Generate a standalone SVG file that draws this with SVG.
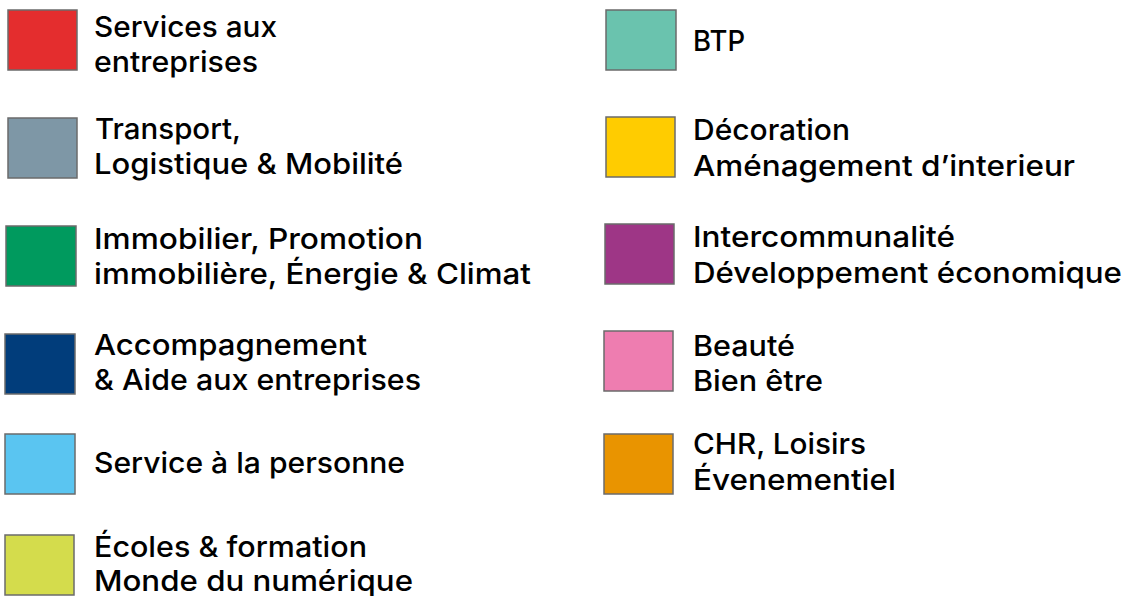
<svg xmlns="http://www.w3.org/2000/svg" width="1131" height="596" viewBox="0 0 1131 596">
<style>
.sw{stroke:#6b6b6b;stroke-width:1.5}
.t{font-family:Inter,"Open Sans","Liberation Sans",sans-serif;font-weight:500;font-size:29px;fill:#000}
</style>
<rect width="1131" height="596" fill="#fff"/>
<g id="services-entreprises">
<rect class="sw" x="8" y="10" width="69" height="60" fill="#E42D2E"/>
<text class="t" x="94" y="37" textLength="183" lengthAdjust="spacingAndGlyphs">Services aux</text>
<text class="t" x="94" y="72" textLength="164" lengthAdjust="spacingAndGlyphs">entreprises</text>
</g>
<g id="transport">
<rect class="sw" x="8" y="118" width="69" height="60" fill="#7E97A6"/>
<text class="t" x="95" y="139" textLength="146" lengthAdjust="spacingAndGlyphs">Transport,</text>
<text class="t" x="94" y="174" textLength="309" lengthAdjust="spacingAndGlyphs">Logistique &amp; Mobilité</text>
</g>
<g id="immobilier">
<rect class="sw" x="6" y="226" width="70" height="60" fill="#009A5E"/>
<text class="t" x="94" y="249" textLength="329" lengthAdjust="spacingAndGlyphs">Immobilier, Promotion</text>
<text class="t" x="94" y="284" textLength="437" lengthAdjust="spacingAndGlyphs">immobilière, Énergie &amp; Climat</text>
</g>
<g id="accompagnement">
<rect class="sw" x="5" y="334" width="70" height="60" fill="#013D7B"/>
<text class="t" x="94" y="355" textLength="273" lengthAdjust="spacingAndGlyphs">Accompagnement</text>
<text class="t" x="94" y="390" textLength="327" lengthAdjust="spacingAndGlyphs">&amp; Aide aux entreprises</text>
</g>
<g id="service-personne">
<rect class="sw" x="5" y="434" width="70" height="60" fill="#5AC5F1"/>
<text class="t" x="94" y="473" textLength="311" lengthAdjust="spacingAndGlyphs">Service à la personne</text>
</g>
<g id="ecoles">
<rect class="sw" x="5" y="535" width="69" height="60" fill="#D4DC4C"/>
<text class="t" x="94" y="557" textLength="273" lengthAdjust="spacingAndGlyphs">Écoles &amp; formation</text>
<text class="t" x="94" y="591" textLength="319" lengthAdjust="spacingAndGlyphs">Monde du numérique</text>
</g>
<g id="btp">
<rect class="sw" x="606" y="10" width="70" height="60" fill="#6AC3AE"/>
<text class="t" x="693" y="51" textLength="52" lengthAdjust="spacingAndGlyphs">BTP</text>
</g>
<g id="decoration">
<rect class="sw" x="606" y="117" width="69" height="60" fill="#FFCC00"/>
<text class="t" x="693" y="140" textLength="157" lengthAdjust="spacingAndGlyphs">Décoration</text>
<text class="t" x="693" y="176" textLength="382" lengthAdjust="spacingAndGlyphs">Aménagement d’interieur</text>
</g>
<g id="intercommunalite">
<rect class="sw" x="605" y="224" width="69" height="60" fill="#9E3686"/>
<text class="t" x="693" y="247" textLength="262" lengthAdjust="spacingAndGlyphs">Intercommunalité</text>
<text class="t" x="693" y="283" textLength="429" lengthAdjust="spacingAndGlyphs">Développement économique</text>
</g>
<g id="beaute">
<rect class="sw" x="604" y="331" width="69" height="60" fill="#EE7DB0"/>
<text class="t" x="693" y="356" textLength="102" lengthAdjust="spacingAndGlyphs">Beauté</text>
<text class="t" x="693" y="391" textLength="130" lengthAdjust="spacingAndGlyphs">Bien être</text>
</g>
<g id="chr">
<rect class="sw" x="604" y="434" width="69" height="60" fill="#E99400"/>
<text class="t" x="693" y="454" textLength="173" lengthAdjust="spacingAndGlyphs">CHR, Loisirs</text>
<text class="t" x="693" y="490" textLength="203" lengthAdjust="spacingAndGlyphs">Évenementiel</text>
</g>
<g id="connectors"/>
</svg>
